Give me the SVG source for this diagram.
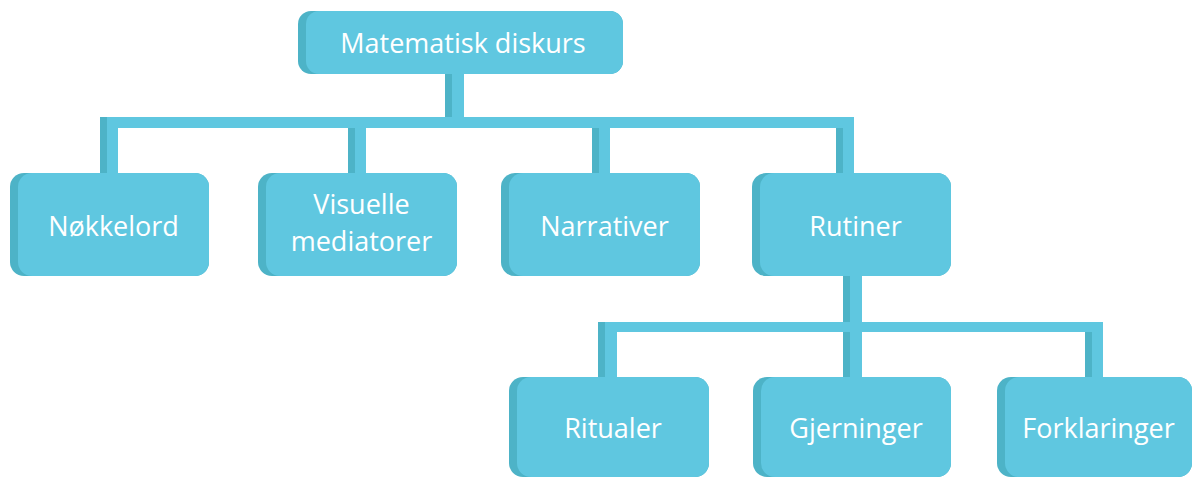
<svg xmlns="http://www.w3.org/2000/svg" width="1192" height="477" viewBox="0 0 1192 477">
<style>
.dk{fill:#4db3c7}
.lt{fill:#5fc7e0}
.t{font-family:"Open Sans","Liberation Sans",sans-serif;font-size:27px;fill:#ffffff;text-anchor:middle}
</style>
<rect width="1192" height="477" fill="#ffffff"/>
<g id="connectors">
  <rect class="lt" x="445" y="74" width="19" height="44"/>
  <rect class="dk" x="445" y="74" width="7" height="43"/>
  <rect class="lt" x="100" y="117" width="754" height="11"/>
  <rect class="lt" x="100" y="117" width="18" height="57"/>
  <rect class="dk" x="100" y="117" width="7" height="57"/>
  <rect class="lt" x="348" y="128" width="18" height="46"/>
  <rect class="dk" x="348" y="128" width="7" height="46"/>
  <rect class="lt" x="592" y="128" width="18" height="46"/>
  <rect class="dk" x="592" y="128" width="7" height="46"/>
  <rect class="lt" x="836" y="117" width="18" height="57"/>
  <rect class="dk" x="836" y="128" width="7" height="46"/>
  <rect class="lt" x="843" y="275" width="19" height="48"/>
  <rect class="dk" x="843" y="275" width="7" height="47"/>
  <rect class="lt" x="598" y="322" width="505" height="10"/>
  <rect class="lt" x="598" y="322" width="19" height="56"/>
  <rect class="dk" x="598" y="322" width="7" height="56"/>
  <rect class="lt" x="843" y="332" width="19" height="46"/>
  <rect class="dk" x="843" y="332" width="7" height="46"/>
  <rect class="lt" x="1085" y="322" width="18" height="56"/>
  <rect class="dk" x="1085" y="332" width="7" height="46"/>
</g>
<g id="n-matematisk">
  <rect class="dk" x="298" y="11" width="325" height="63" rx="13"/>
  <rect class="lt" x="306" y="11" width="317" height="63" rx="13"/>
  <text class="t" x="463" y="53">Matematisk diskurs</text>
</g>
<g id="n-nokkelord">
  <rect class="dk" x="10" y="173" width="199" height="103" rx="14"/>
  <rect class="lt" x="18" y="173" width="191" height="103" rx="14"/>
  <text class="t" x="113.5" y="236">Nøkkelord</text>
</g>
<g id="n-visuelle">
  <rect class="dk" x="258" y="173" width="199" height="103" rx="14"/>
  <rect class="lt" x="266" y="173" width="191" height="103" rx="14"/>
  <text class="t" x="361.5" y="214">Visuelle</text>
  <text class="t" x="361.5" y="251">mediatorer</text>
</g>
<g id="n-narrativer">
  <rect class="dk" x="501" y="173" width="199" height="103" rx="14"/>
  <rect class="lt" x="509" y="173" width="191" height="103" rx="14"/>
  <text class="t" x="604.5" y="236">Narrativer</text>
</g>
<g id="n-rutiner">
  <rect class="dk" x="752" y="173" width="199" height="103" rx="14"/>
  <rect class="lt" x="760" y="173" width="191" height="103" rx="14"/>
  <text class="t" x="855.5" y="236">Rutiner</text>
</g>
<g id="n-ritualer">
  <rect class="dk" x="509" y="377" width="200" height="100" rx="14"/>
  <rect class="lt" x="517" y="377" width="192" height="100" rx="14"/>
  <text class="t" x="613" y="438">Ritualer</text>
</g>
<g id="n-gjerninger">
  <rect class="dk" x="753" y="377" width="198" height="100" rx="14"/>
  <rect class="lt" x="761" y="377" width="190" height="100" rx="14"/>
  <text class="t" x="856" y="438">Gjerninger</text>
</g>
<g id="n-forklaringer">
  <rect class="dk" x="997" y="377" width="195" height="100" rx="14"/>
  <rect class="lt" x="1005" y="377" width="187" height="100" rx="14"/>
  <text class="t" x="1098.5" y="438">Forklaringer</text>
</g>
</svg>
